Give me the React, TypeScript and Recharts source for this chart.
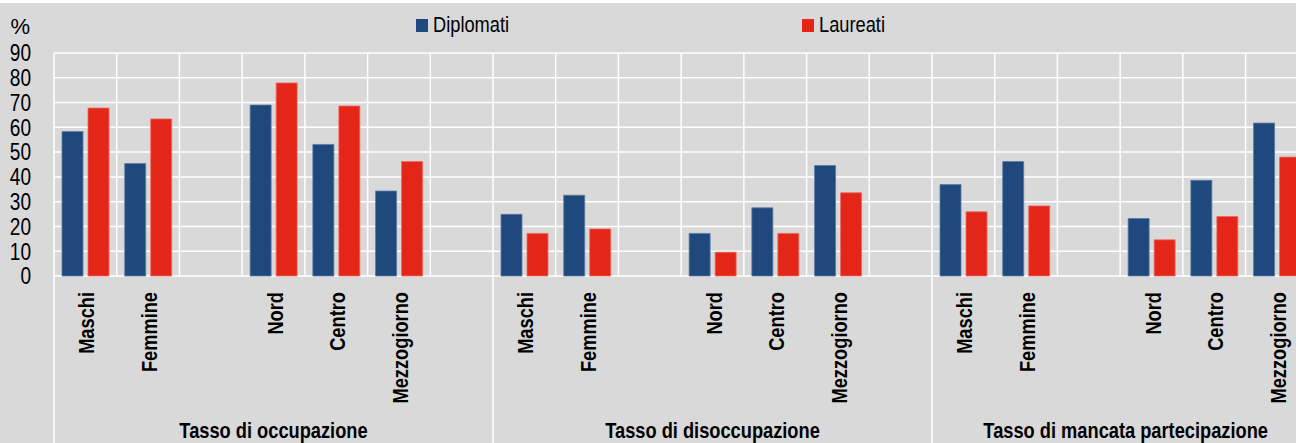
import { Bar, BarChart, CartesianGrid, Legend, XAxis, YAxis } from "recharts";

const groups = ["Tasso di occupazione", "Tasso di disoccupazione", "Tasso di mancata partecipazione"];
const categories = ["Maschi", "Femmine", "", "Nord", "Centro", "Mezzogiorno", ""];
const diplomati = [
  58.3, 45.4, null, 69.0, 53.1, 34.3, null,
  24.9, 32.6, null, 17.2, 27.5, 44.6, null,
  36.9, 46.2, null, 23.2, 38.6, 61.7, null,
];
const laureati = [
  67.8, 63.4, null, 77.9, 68.6, 46.2, null,
  17.2, 19.0, null, 9.6, 17.2, 33.6, null,
  25.9, 28.3, null, 14.6, 24.0, 48.0, null,
];
const yTicks = [0, 10, 20, 30, 40, 50, 60, 70, 80, 90];

const data = groups.flatMap((group, gi) =>
  categories.map((cat, ci) => ({
    key: `${gi}-${ci}`,
    cat,
    group,
    groupIndex: gi,
    slot: ci,
    diplomati: diplomati[gi * categories.length + ci],
    laureati: laureati[gi * categories.length + ci],
  }))
);

// no narrow font installed, so Liberation Sans is squeezed horizontally
const FONT = "'Liberation Sans', Arial, sans-serif";
const SQUEEZE = 0.83;
const BLUE = "#1f497d";
const RED = "#e42618";
const BG = "#d9d9d9";

const VIEW_W = 1296;
const CHART_W = 1375;
const CHART_H = 443;
const Y_AXIS_W = 54;
const X_AXIS_H = 167;
const TOP = 53;
const RIGHT = 4;
const AXIS_Y = CHART_H - X_AXIS_H;
const SLOT = (CHART_W - Y_AXIS_W - RIGHT) / data.length;

const CategoryTick = (props: any) => {
  const { x, index } = props;
  const row = data[index];
  if (!row) return null;
  const lastGroup = row.groupIndex === groups.length - 1;
  return (
    <g>
      {row.cat && (
        <text
          transform={`translate(${x + 9},${AXIS_Y + 16}) rotate(-90) scale(${SQUEEZE},1)`}
          textAnchor="end"
          fontFamily={FONT}
          fontWeight="bold"
          fontSize={22}
          fill="#000"
        >
          {row.cat}
        </text>
      )}
      {row.slot === 0 && (
        <line x1={x - SLOT / 2} x2={x - SLOT / 2} y1={AXIS_Y} y2={CHART_H} stroke="#fff" strokeWidth={1.5} />
      )}
      {row.slot === 3 && (
        <text
          transform={`translate(${lastGroup ? VIEW_W - 28 : x},${CHART_H - 5}) scale(${SQUEEZE},1)`}
          textAnchor={lastGroup ? "end" : "middle"}
          fontFamily={FONT}
          fontWeight="bold"
          fontSize={22}
          fill="#000"
        >
          {row.group}
        </text>
      )}
    </g>
  );
};

const ValueTick = (props: any) => {
  const { y, payload } = props;
  return (
    <text
      transform={`translate(31,${y}) scale(${SQUEEZE},1)`}
      textAnchor="end"
      dy="0.36em"
      fontFamily={FONT}
      fontSize={23}
      fill="#000"
    >
      {payload.value}
    </text>
  );
};

const LegendContent = () => (
  <div style={{ display: "flex", fontFamily: FONT, fontSize: 22, color: "#000", paddingLeft: 416 }}>
    {[
      { name: "Diplomati", color: BLUE },
      { name: "Laureati", color: RED },
    ].map((item, i) => (
      <div key={item.name} style={{ display: "flex", alignItems: "center", width: i === 0 ? 386 : 150 }}>
        <span style={{ width: 12, height: 13, background: item.color, display: "inline-block", marginRight: 5 }} />
        <span style={{ display: "inline-block", transform: `scaleX(${SQUEEZE})`, transformOrigin: "left center" }}>
          {item.name}
        </span>
      </div>
    ))}
  </div>
);

export default function App() {
  return (
    <div
      style={{
        position: "absolute",
        left: 0,
        top: 0,
        width: VIEW_W,
        height: CHART_H,
        overflow: "hidden",
        background: BG,
      }}
    >
      <div style={{ position: "absolute", left: 0, top: 0, width: VIEW_W, height: 3, background: "#fff", zIndex: 2 }} />
      <BarChart
        width={CHART_W}
        height={CHART_H}
        data={data}
        margin={{ top: TOP, right: RIGHT, bottom: 0, left: 0 }}
        barSize={21}
        barGap={5}
      >
        <CartesianGrid
          stroke="#fff"
          strokeWidth={1.5}
          verticalCoordinatesGenerator={({ offset }: any) =>
            Array.from({ length: data.length + 1 }, (_, i) => offset.left + (i * offset.width) / data.length)
          }
        />
        <XAxis
          dataKey="key"
          height={X_AXIS_H}
          axisLine={false}
          tickLine={false}
          interval={0}
          tick={<CategoryTick />}
        />
        <YAxis
          width={Y_AXIS_W}
          domain={[0, 90]}
          ticks={yTicks}
          interval={0}
          axisLine={false}
          tickLine={false}
          tick={<ValueTick />}
          label={{
            content: () => (
              <text x={30} y={34} textAnchor="end" fontFamily={FONT} fontSize={22} fill="#000">
                %
              </text>
            ),
          }}
        />
        <Legend
          layout="horizontal"
          verticalAlign="middle"
          align="center"
          wrapperStyle={{ top: 12, left: 0, width: VIEW_W }}
          content={<LegendContent />}
        />
        <Bar dataKey="diplomati" name="Diplomati" fill={BLUE} stroke="#5b7aa3" strokeWidth={0.8} isAnimationActive={false} />
        <Bar dataKey="laureati" name="Laureati" fill={RED} stroke="#ee6a60" strokeWidth={0.8} isAnimationActive={false} />
      </BarChart>
    </div>
  );
}
